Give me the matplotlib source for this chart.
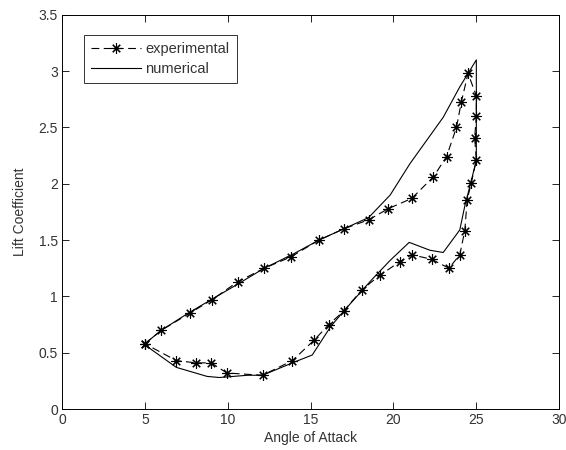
import matplotlib
matplotlib.use("Agg")
import matplotlib.pyplot as plt

plt.rcParams['font.family'] = ['Liberation Sans', 'DejaVu Sans']

exp_aoa = [5.0, 6.0, 7.7, 9.05, 10.6, 12.2, 13.8, 15.5, 17.0, 18.5, 19.7, 21.1, 22.4, 23.2,
           23.8, 24.1, 24.5, 25.0, 25.0, 24.9, 25.0, 24.7, 24.45, 24.3, 24.0, 23.35, 22.3,
           21.1, 20.4, 19.2, 18.1, 17.0, 16.1, 15.2, 13.9, 12.1, 9.95, 9.0, 8.1, 6.9, 5.0]
exp_cl = [0.58, 0.70, 0.85, 0.97, 1.13, 1.25, 1.35, 1.50, 1.60, 1.68, 1.78, 1.87, 2.06, 2.24,
          2.50, 2.73, 2.98, 2.78, 2.60, 2.41, 2.21, 2.01, 1.86, 1.58, 1.37, 1.25, 1.33,
          1.37, 1.31, 1.19, 1.06, 0.87, 0.75, 0.61, 0.43, 0.30, 0.32, 0.41, 0.41, 0.43, 0.58]

num_aoa = [5.0, 6.0, 7.6, 9.1, 10.5, 12.2, 14.0, 15.5, 17.0, 18.5, 19.8, 21.0, 23.0, 24.0,
           24.5, 25.0, 25.0, 24.7, 24.3, 24.0, 23.0, 22.2, 20.95, 19.8, 18.7, 17.0, 16.2,
           15.1, 13.9, 12.1, 11.2, 9.5, 8.75, 6.9, 5.0]
num_cl = [0.58, 0.70, 0.85, 0.98, 1.10, 1.25, 1.38, 1.50, 1.60, 1.70, 1.90, 2.18, 2.59, 2.86,
          2.98, 3.10, 2.21, 2.03, 1.80, 1.59, 1.39, 1.41, 1.48, 1.32, 1.15, 0.87, 0.73,
          0.48, 0.41, 0.30, 0.30, 0.28, 0.29, 0.37, 0.57]

fig = plt.figure(figsize=(5.66, 4.5), dpi=100)
ax = fig.add_axes([0.1095, 0.091, 0.8785, 0.876])
ax.plot(exp_aoa, exp_cl, color="black", linestyle=(0, (7, 4)), linewidth=0.8,
        marker=(8, 2, 0), markersize=7.5, markeredgewidth=0.8, label="experimental")
ax.plot(num_aoa, num_cl, color="black", linestyle="-", linewidth=0.8, label="numerical")

ax.set_xlim(0, 30)
ax.set_ylim(0, 3.5)
ax.set_xticks([0, 5, 10, 15, 20, 25, 30])
ax.set_yticks([0, 0.5, 1, 1.5, 2, 2.5, 3, 3.5])
ax.set_yticklabels(["0", "0.5", "1", "1.5", "2", "2.5", "3", "3.5"])
ax.tick_params(direction="in", top=True, right=True, labelsize=10, length=5, width=0.6, pad=3,
               labelcolor="#333333")
for s in ax.spines.values():
    s.set_linewidth(0.7)
ax.set_xlabel("Angle of Attack", fontsize=10, labelpad=3, color="#333333")
ax.set_ylabel("Lift Coefficient", fontsize=10, labelpad=8, color="#333333")
leg = ax.legend(loc="upper left", bbox_to_anchor=(0.044, 0.95), fontsize=10.5, frameon=True,
                fancybox=False, edgecolor="black", handlelength=3.4, borderpad=0.5,
                labelspacing=0.4, handletextpad=0.3, borderaxespad=0)
leg.get_frame().set_linewidth(0.7)
for t in leg.get_texts():
    t.set_color("#333333")
fig.savefig("out.png", dpi=100)
